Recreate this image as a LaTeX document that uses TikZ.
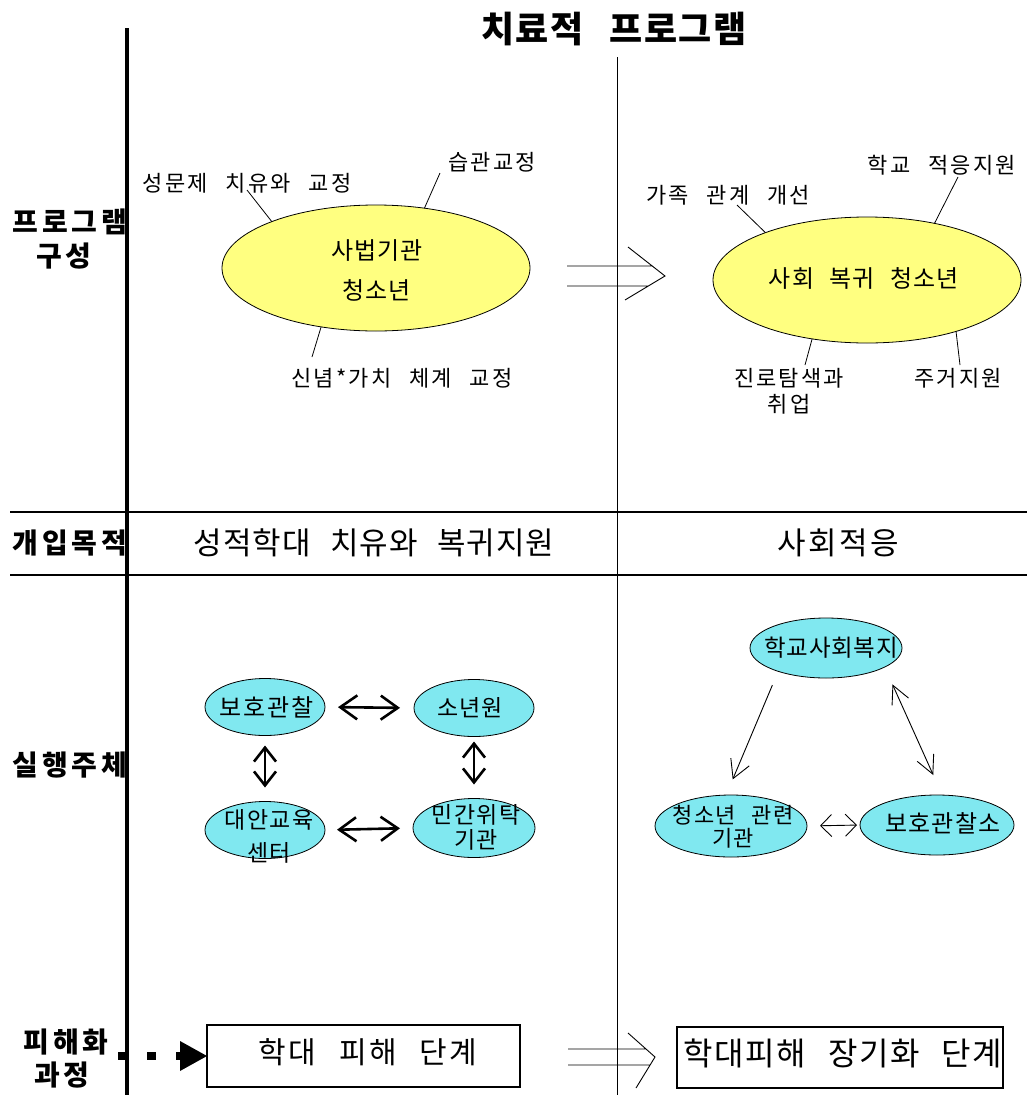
\documentclass[tikz,border=0pt]{standalone}
\usepackage{fontspec}
\setmainfont{Noto Sans CJK KR}[WordSpace=2.5]
\usetikzlibrary{shapes.geometric,arrows.meta}
\definecolor{ylw}{RGB}{255,255,128}
\definecolor{cyn}{RGB}{128,232,240}
\newcommand\fsz[2]{\fontsize{#1}{#2}\selectfont}
\tikzset{
  every node/.style={inner sep=0pt,outer sep=0pt},
  ttl/.style={font=\fsz{36}{42}\bfseries\addfontfeature{LetterSpace=5}},
  rowlab/.style={font=\fsz{28}{32}\bfseries\addfontfeature{LetterSpace=14}},
  goal/.style={font=\fsz{31}{36}\addfontfeature{LetterSpace=3}},
  midtext/.style={font=\fsz{24}{40}\addfontfeature{LetterSpace=4},align=center},
  side/.style={font=\fsz{22}{26}\addfontfeature{LetterSpace=10},align=center},
  ctext/.style={font=\fsz{24}{26}\addfontfeature{LetterSpace=8},align=center},
  yel/.style={ellipse,draw,line width=0.8pt,fill=ylw,minimum width=308pt,minimum height=126pt},
  cyell/.style={ellipse,draw,line width=0.8pt,fill=cyn,minimum width=120pt,minimum height=57pt},
  cyanw/.style={ellipse,draw,line width=0.8pt,fill=cyn,minimum width=152pt,minimum height=60pt},
  stagebox/.style={draw,line width=1.2pt,minimum height=62pt},
  leader/.style={line width=0.8pt},
  rule/.style={line width=1.2pt},
  thk/.style={line width=2.6pt,{Straight Barb[length=17pt,width=24pt]}-{Straight Barb[length=17pt,width=24pt]}},
  thkv/.style={line width=2.6pt,{Straight Barb[length=14pt,width=22pt]}-{Straight Barb[length=14pt,width=22pt]}},
  thn/.style={line width=0.9pt,-{Straight Barb[length=18pt,width=20pt]}},
  thnb/.style={line width=0.9pt,{Straight Barb[length=18pt,width=18pt]}-{Straight Barb[length=18pt,width=18pt]}},
  thns/.style={line width=0.9pt,{Straight Barb[length=11pt,width=22pt]}-{Straight Barb[length=11pt,width=22pt]}},
  implies/.style={line width=0.9pt},
  dashline/.style={line width=8pt,dash pattern=on 9pt off 20pt},
}
\begin{document}
\begin{tikzpicture}[x=1pt,y=-1pt]
\fill[white] (0,0) rectangle (1027,1095);
\useasboundingbox (0,0) rectangle (1027,1095);
% frame lines
\draw[line width=4pt] (127,28) -- (127,1095);
\draw[line width=1pt] (617,57) -- (617,1095);
\draw[rule] (10,512) -- (1027,512);
\draw[rule] (10,575) -- (1027,575);
% title
\node[ttl] (title) at (614,29) {치료적 프로그램};
% row labels
\node[rowlab] (l1a) at (70,222) {프로그램};
\node[rowlab] (l1b) at (64,256) {구성};
\node[rowlab] (l2) at (70,543) {개입목적};
\node[rowlab] (l3) at (70,765) {실행주체};
\node[rowlab] (l4a) at (66,1042) {피해화};
\node[rowlab] (l4b) at (62,1075) {과정};
% row 2 texts
\node[goal] (g1) at (374,543) {성적학대 치유와 복귀지원};
\node[goal,font=\fsz{31}{36}\addfontfeature{LetterSpace=8}] (g2) at (838,543) {사회적응};
% program ellipses
\node[yel] (e1) at (376,268) {};
\node[midtext] (e1t) at (377,270) {사법기관\\청소년};
\node[yel] (e2) at (867,280) {};
\node[midtext] (e2t) at (864,278) {사회 복귀 청소년};
% side labels
\node[side] (s1) at (247,183) {성문제 치유와 교정};
\node[side] (s2) at (492,162) {습관교정};
\node[side] (s3) at (402,378) {신념*가치 체계 교정};
\node[side] (s4) at (728,195) {가족 관계 개선};
\node[side] (s5) at (942,165) {학교 적응지원};
\node[side] (s6) at (789,391) {진로탐색과\\취업};
\node[side] (s7) at (958,378) {주거지원};
% leaders
\coordinate (p1) at (247,190); \draw[leader] (p1) -- (e1.156);
\coordinate (p2) at (440,173); \draw[leader] (p2) -- (e1.51);
\coordinate (p3) at (312,357); \draw[leader] (p3) -- (e1.227);
\coordinate (p4) at (737,205); \draw[leader] (p4) -- (e2.155);
\coordinate (p5) at (958,177); \draw[leader] (p5) -- (e2.40);
\coordinate (p6) at (805,365); \draw[leader] (p6) -- (e2.227);
\coordinate (p7) at (960,365); \draw[leader] (p7) -- (e2.330);
% implies arrows
\draw[implies] (567,266) -- (652,266) (567,286) -- (648,286) (628,247) -- (665,276) -- (625,300);
\draw[implies] (568,1049) -- (646,1049) (568,1065) -- (650,1065) (628,1033) -- (655,1057) -- (636,1088);
% executing bodies, left
\node[cyell] (c1) at (265,707) {};
\node[ctext] (c1t) at (267,707) {보호관찰};
\node[cyell] (c2) at (474,708) {};
\node[ctext,font=\fsz{23}{26}\addfontfeature{LetterSpace=3}] (c2t) at (470,708) {소년원};
\node[cyell] (c3) at (265,830) {};
\node[ctext,font=\fsz{23}{33}\addfontfeature{LetterSpace=6}] (c3t) at (269,836) {대안교육\\센터};
\node[cyell,minimum width=122pt,minimum height=59pt] (c4) at (474,828) {};
\node[ctext,font=\fsz{23}{25}\addfontfeature{LetterSpace=6}] (c4t) at (476,827) {민간위탁\\기관};
\draw[thk,shorten <=13pt,shorten >=14pt] (c1.east) -- (c2.west);
\draw[thk,shorten <=12pt,shorten >=13pt] (c3.east) -- (c4.west);
\draw[thkv,shorten <=10pt,shorten >=14pt] (c1.south) -- (c3.north);
\draw[thkv,shorten <=5pt,shorten >=14pt] (c2.south) -- (c4.north);
% executing bodies, right
\node[cyanw] (d1) at (826,648) {};
\node[ctext,font=\fsz{23.5}{26}\addfontfeature{LetterSpace=3}] (d1t) at (831,648) {학교사회복지};
\node[cyanw,minimum height=62pt] (d2) at (731,826) {};
\node[ctext,font=\fsz{22}{23}\addfontfeature{LetterSpace=6}] (d2t) at (733,827) {청소년 관련\\기관};
\node[cyanw,minimum width=154pt] (d3) at (937,825) {};
\node[ctext,font=\fsz{24}{26}\addfontfeature{LetterSpace=5}] (d3t) at (943,823) {보호관찰소};
\draw[thn,shorten <=15pt,shorten >=17pt] (d1.206) -- (d2.99);
\draw[thnb,shorten <=19pt,shorten >=22pt] (d1.342) -- (d3.80);
\draw[thns,shorten <=13pt,shorten >=3pt] (d2.east) -- (d3.west);
% victimization stages
\node[stagebox,minimum width=313pt] (b1) at (363.5,1056) {};
\node[font=\fsz{30}{34}\addfontfeature{LetterSpace=8}] (b1t) at (368,1052) {학대 피해 단계};
\node[stagebox,minimum width=326pt,minimum height=61pt] (b2) at (840,1057.5) {};
\node[font=\fsz{32}{36}\addfontfeature{LetterSpace=5}] (b2t) at (843,1053) {학대피해 장기화 단계};
\coordinate (ds) at (118,1056);
\draw[dashline] (ds) -- ([xshift=-26pt]b1.west);
\fill ([xshift=-27pt,yshift=15pt]b1.west) -- (b1.west) -- ([xshift=-27pt,yshift=-15pt]b1.west) -- cycle;
\end{tikzpicture}
\end{document}
